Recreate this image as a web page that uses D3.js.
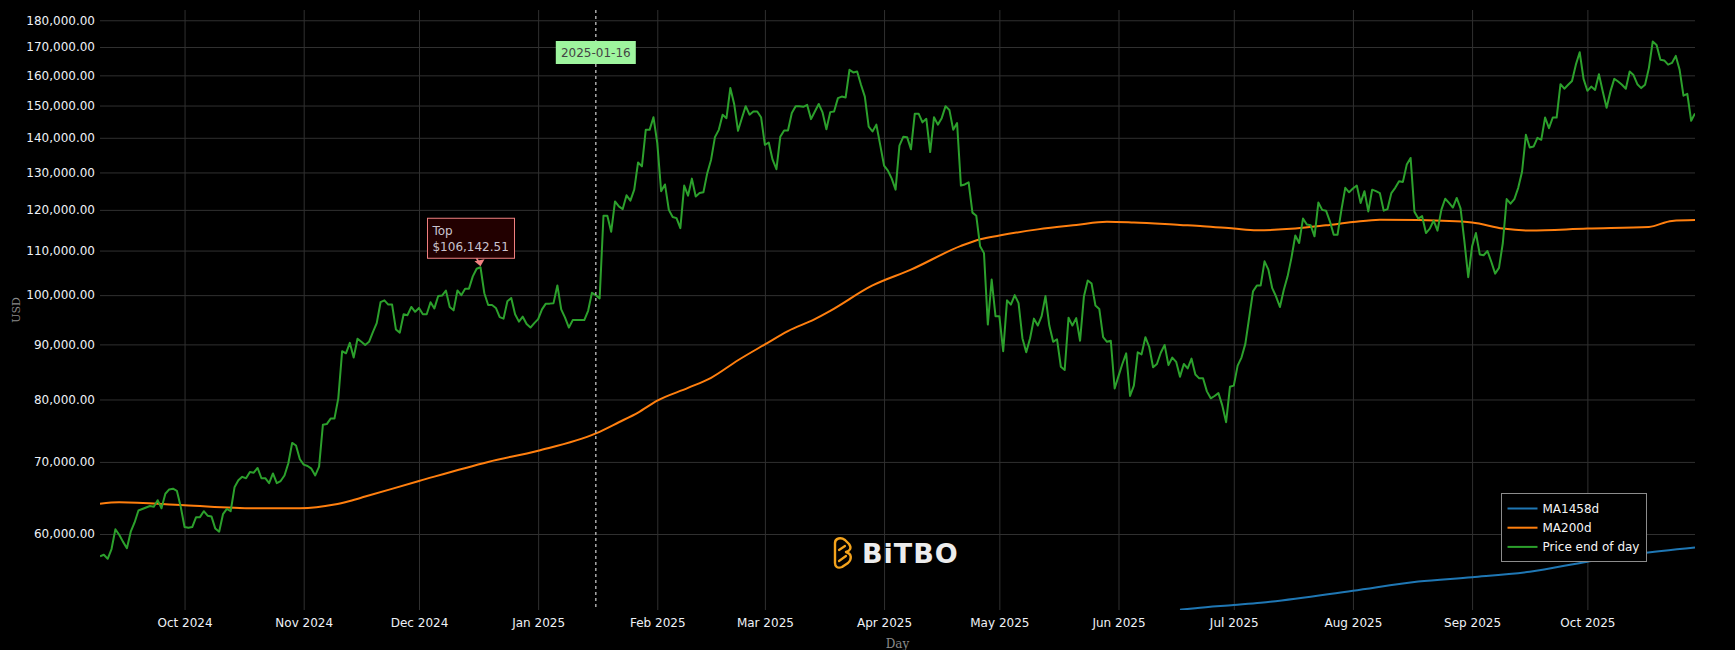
<!DOCTYPE html>
<html>
<head>
<meta charset="utf-8">
<script src="https://cdn.jsdelivr.net/npm/d3@7"></script>
<style>
    body { margin: 0; background: #000; }
    svg { display: block; }
</style>
</head>
<body>
<svg id="canvas"></svg>
<script>
// ----------------------------------- data -----------------------------------
// first day of the series, every price is one day later than the one before
let startDay = '2024-09-09'

// price end of day, USD thousands
let priceK = [
    57.2, 57.4, 56.9, 58.1, 60.6, 59.9, 59.0, 58.2, 60.3, 61.5,
    63.1, 63.3, 63.5, 63.7, 63.6, 64.5, 63.4, 65.4, 66.0, 66.1,
    65.8, 63.6, 60.9, 60.8, 60.9, 62.2, 62.2, 63.0, 62.4, 62.3,
    60.7, 60.3, 62.6, 63.3, 63.0, 66.3, 67.3, 67.8, 67.6, 68.5,
    68.4, 69.1, 67.6, 67.6, 66.9, 68.3, 66.9, 67.2, 68.0, 69.8,
    72.9, 72.5, 70.4, 69.6, 69.4, 69.0, 68.0, 69.3, 75.8, 75.9,
    76.8, 76.8, 80.2, 88.7, 88.3, 90.3, 87.5, 91.1, 90.5, 89.9,
    90.5, 92.4, 94.2, 98.5, 98.9, 98.0, 98.0, 92.9, 92.3, 96.0,
    95.8, 97.5, 96.5, 97.3, 96.0, 96.0, 98.5, 97.2, 99.8, 99.9,
    101.0, 97.5, 96.8, 101.0, 100.0, 101.4, 101.4, 104.1, 105.8, 106.14251,
    100.4, 97.9, 97.9, 97.3, 95.4, 95.1, 98.7, 99.4, 96.0, 94.5,
    95.5, 94.0, 93.3, 94.2, 95.0, 97.0, 98.2, 98.2, 98.3, 102.1,
    97.0, 95.3, 93.3, 94.8, 94.8, 94.8, 94.8, 96.7, 100.5, 100.0,
    99.3, 118.5, 118.5, 114.5, 122.2, 120.9, 120.2, 123.8, 122.4, 125.3,
    132.8, 131.7, 142.4, 142.4, 146.3, 138.4, 124.9, 126.7, 120.0, 118.2,
    117.9, 115.4, 126.4, 123.7, 128.3, 123.5, 124.4, 124.6, 129.8, 133.6,
    140.2, 142.4, 147.1, 146.0, 155.7, 150.5, 142.1, 146.0, 149.8, 147.1,
    148.1, 148.1, 146.3, 137.9, 138.6, 133.6, 130.9, 140.3, 142.2, 142.2,
    147.6, 149.8, 149.8, 149.6, 150.2, 145.7, 148.1, 150.5, 147.8, 142.6,
    147.9, 148.1, 152.4, 152.9, 152.6, 161.9, 161.0, 161.3, 156.8, 152.9,
    143.4, 141.9, 144.0, 137.9, 131.9, 130.5, 128.3, 125.3, 137.7, 140.3,
    140.2, 136.6, 147.4, 147.4, 144.7, 145.8, 135.8, 146.3, 144.0, 146.0,
    149.8, 148.6, 142.4, 144.5, 126.4, 126.7, 127.3, 119.3, 118.5, 111.0,
    109.4, 93.9, 103.4, 95.6, 95.6, 88.7, 98.9, 98.0, 100.0, 98.3,
    91.2, 88.5, 91.2, 95.1, 93.7, 95.6, 99.8, 93.7, 90.5, 91.0,
    85.8, 85.2, 95.3, 93.7, 95.2, 90.7, 99.7, 103.2, 102.5, 97.8,
    97.1, 91.4, 90.5, 90.7, 81.9, 84.1, 86.3, 88.3, 80.6, 82.4,
    88.5, 88.1, 91.4, 89.5, 85.7, 86.3, 88.4, 89.9, 86.1, 87.5,
    86.7, 84.0, 86.3, 85.5, 87.3, 84.4, 83.7, 83.7, 81.4, 80.2,
    80.6, 81.1, 79.0, 76.2, 82.2, 82.4, 86.0, 87.5, 90.1, 95.3,
    100.8, 102.1, 102.1, 107.5, 105.6, 101.5, 99.7, 97.5, 101.1, 104.1,
    108.3, 113.6, 111.8, 117.8, 116.3, 116.1, 113.4, 121.9, 120.0, 119.8,
    117.1, 113.8, 113.8, 120.0, 125.8, 124.6, 125.6, 126.4, 121.8, 124.9,
    119.6, 125.3, 124.9, 124.4, 119.8, 120.2, 124.4, 125.8, 127.6, 127.4,
    132.2, 134.1, 119.5, 117.8, 118.4, 114.2, 115.3, 117.3, 114.8, 120.0,
    122.9, 121.8, 120.6, 123.1, 120.4, 112.2, 103.9, 111.0, 114.2, 109.1,
    108.9, 109.9, 107.4, 104.7, 106.0, 111.8, 122.8, 121.6, 122.8, 125.8,
    130.2, 140.9, 137.1, 137.4, 140.0, 139.4, 146.2, 142.9, 146.2, 146.2,
    157.0, 155.5, 156.8, 158.1, 163.7, 168.1, 158.8, 154.8, 156.2, 155.1,
    160.4, 154.6, 149.3, 154.6, 158.8, 157.9, 156.8, 155.5, 161.3, 160.1,
    157.0, 155.7, 156.8, 162.5, 172.0, 170.7, 165.4, 165.2, 163.7, 164.3,
    166.8, 161.9, 153.2, 153.8, 145.2, 147.5
]

// 200 day moving average, day number from startDay and USD thousands
let ma200Day = [0, 5, 22, 40, 52, 61, 65, 69, 83, 101, 114, 129, 135, 140, 145, 153, 159, 166, 173, 179,
    186, 190, 201, 211, 224, 229, 234, 244, 254, 262, 269, 281, 287, 295, 301, 311, 319, 326, 333, 343,
    357, 365, 372, 387, 403, 409, 415]
let ma200K = [64.0, 64.2, 63.8, 63.4, 63.4, 63.9, 64.4, 65.0, 67.2, 70.0, 71.7, 74.4, 76.2, 77.8, 79.8, 82.0, 83.8, 87.0, 90.0, 92.6,
    95.0, 96.7, 102.1, 105.6, 111.1, 112.7, 113.6, 115.1, 116.2, 117.0, 116.8, 116.2, 115.9, 115.3, 114.9, 115.3, 116.1, 116.9, 117.5, 117.4,
    116.8, 115.3, 114.8, 115.3, 115.7, 117.2, 117.4]

// 1458 day moving average (only its top is inside the chart)
let ma1458Day = [281, 285, 295, 302, 326, 343, 357, 372, 387, 400, 415]
let ma1458K = [51.02, 51.2, 51.55, 51.8, 53.15, 54.2, 54.7, 55.35, 56.55, 57.5, 58.3]

let yTickValues = [60000, 70000, 80000, 90000, 100000, 110000, 120000, 130000, 140000, 150000, 160000, 170000, 180000]
let yDomain = [51000, 184000]

let seriesNames = ['MA1458d', 'MA200d', 'Price end of day']
let seriesColors = ['#1f77b4', '#ff7f0e', '#2ca02c']

let markerDate = '2025-01-16'
let topDay = 99
let topLines = ['Top', '$106,142.51']

// ----------------------------------- layout -----------------------------------
let width = 1735
let height = 650
let plotLeft = 100
let plotRight = 1695
let plotTop = 10
let plotBottom = 610

let fontSans = '"DejaVu Sans", Verdana, sans-serif'
let fontSerif = '"DejaVu Serif", "Liberation Serif", serif'

let canvas = d3.select('#canvas')
canvas.attr('width', width)
canvas.attr('height', height)
canvas.append('rect').attr('width', width).attr('height', height).attr('fill', '#000')

let parseDay = d3.timeParse('%Y-%m-%d')
let day0 = parseDay(startDay)
let toDate = (n) => d3.timeDay.offset(day0, n)

let priceData = priceK.map((v, i) => ({date: toDate(i), value: v * 1000}))
let ma200Data = ma200Day.map((d, i) => ({date: toDate(d), value: ma200K[i] * 1000}))
let ma1458Data = ma1458Day.map((d, i) => ({date: toDate(d), value: ma1458K[i] * 1000}))

let xScale
let yScale

let generateScales = () => {
    xScale = d3.scaleTime()
        .domain([priceData[0].date, priceData[priceData.length - 1].date])
        .range([plotLeft, plotRight])

    yScale = d3.scaleLog()
        .domain(yDomain)
        .range([plotBottom, plotTop])
}

let drawAxes = () => {
    let xAxis = d3.axisBottom(xScale)
        .ticks(d3.timeMonth.every(1))
        .tickFormat(d3.timeFormat('%b %Y'))
        .tickSize(-(plotBottom - plotTop))
        .tickPadding(8)

    let yAxis = d3.axisLeft(yScale)
        .tickValues(yTickValues)
        .tickFormat(d3.format(',.2f'))
        .tickSize(-(plotRight - plotLeft))
        .tickPadding(5)

    let gx = canvas.append('g')
        .attr('transform', 'translate(0, ' + plotBottom + ')')
        .call(xAxis)

    let gy = canvas.append('g')
        .attr('transform', 'translate(' + plotLeft + ', 0)')
        .call(yAxis)

    for (let g of [gx, gy]) {
        g.select('.domain').remove()
        g.selectAll('.tick line').attr('stroke', '#303030').attr('stroke-width', 1)
        g.selectAll('.tick text')
            .attr('fill', '#eef1f7')
            .style('font-family', fontSans)
            .style('font-size', '12px')
    }

    // axis titles
    canvas.append('text')
        .attr('transform', 'translate(20, ' + ((plotTop + plotBottom) / 2) + ') rotate(-90)')
        .attr('text-anchor', 'middle')
        .attr('fill', '#8a8a8a')
        .style('font-family', fontSerif)
        .style('font-size', '11px')
        .text('USD')

    canvas.append('text')
        .attr('x', (plotLeft + plotRight) / 2)
        .attr('y', 648)
        .attr('text-anchor', 'middle')
        .attr('fill', '#8a8a8a')
        .style('font-family', fontSerif)
        .style('font-size', '12px')
        .text('Day')
}

let drawLogo = () => {
    let logo = canvas.append('g').attr('transform', 'translate(832, 537)')
    logo.append('path')
        .attr('d', 'M3,6 C3,1 9,0 13,3 L17,7 C20,11 18,14 14,15 C20,17 20,22 16,26 L10,30 C5,32 3,29 3,26 Z')
        .attr('fill', 'none')
        .attr('stroke', '#f4a31c')
        .attr('stroke-width', 2.4)
        .attr('stroke-linejoin', 'round')
    logo.append('path')
        .attr('d', 'M7,13 L13,9 M7,24 L14,19')
        .attr('stroke', '#f4a31c')
        .attr('stroke-width', 2.2)
        .attr('stroke-linecap', 'round')
    canvas.append('text')
        .attr('x', 862)
        .attr('y', 563)
        .attr('fill', '#ececec')
        .style('font-family', fontSans)
        .style('font-weight', 'bold')
        .style('font-size', '27px')
        .style('letter-spacing', '1px')
        .text('BiTBO')
}

let drawLines = () => {
    canvas.append('clipPath').attr('id', 'plot-clip')
        .append('rect')
        .attr('x', plotLeft).attr('y', plotTop)
        .attr('width', plotRight - plotLeft).attr('height', plotBottom - plotTop)

    let lines = canvas.append('g').attr('clip-path', 'url(#plot-clip)')

    let straight = d3.line()
        .x((item) => xScale(item.date))
        .y((item) => yScale(item.value))

    let smooth = d3.line()
        .curve(d3.curveMonotoneX)
        .x((item) => xScale(item.date))
        .y((item) => yScale(item.value))

    let series = [
        {data: ma1458Data, line: smooth},
        {data: ma200Data, line: smooth},
        {data: priceData, line: straight}
    ]

    series.forEach((s, i) => {
        lines.append('path')
            .attr('d', s.line(s.data))
            .attr('fill', 'none')
            .attr('stroke', seriesColors[i])
            .attr('stroke-width', 2)
            .attr('stroke-linejoin', 'round')
    })
}

let drawMarker = () => {
    let mx = xScale(parseDay(markerDate))

    canvas.append('line')
        .attr('x1', mx).attr('x2', mx)
        .attr('y1', plotTop).attr('y2', plotBottom)
        .attr('stroke', '#a8a8a8')
        .attr('stroke-width', 1.5)
        .attr('stroke-dasharray', '3,3')

    canvas.append('rect')
        .attr('x', mx - 40).attr('y', 41)
        .attr('width', 80).attr('height', 23)
        .attr('fill', '#9ef59e')

    canvas.append('text')
        .attr('x', mx).attr('y', 52.5)
        .attr('dy', '0.35em')
        .attr('text-anchor', 'middle')
        .attr('fill', '#444')
        .style('font-family', fontSans)
        .style('font-size', '12px')
        .text(markerDate)
}

let drawTopNote = () => {
    let px = xScale(toDate(topDay))
    let py = yScale(priceK[topDay] * 1000)

    let boxW = 87
    let boxH = 40
    let bx = px - 53
    let by = py - 49

    canvas.append('rect')
        .attr('x', bx).attr('y', by)
        .attr('width', boxW).attr('height', boxH)
        .attr('fill', '#220000')
        .attr('stroke', '#f08080')
        .attr('stroke-width', 1)

    topLines.forEach((t, i) => {
        canvas.append('text')
            .attr('x', bx + 5)
            .attr('y', by + 12.5 + i * 16.5)
            .attr('dy', '0.35em')
            .attr('fill', '#c9c3cf')
            .style('font-family', fontSans)
            .style('font-size', '12px')
            .text(t)
    })

    // arrow from the box down to the peak
    canvas.append('line')
        .attr('x1', px - 4).attr('y1', by + boxH)
        .attr('x2', px - 1).attr('y2', py - 4)
        .attr('stroke', '#f08080')
        .attr('stroke-width', 1.5)
    canvas.append('path')
        .attr('d', 'M' + (px - 6) + ',' + (py - 6) + ' L' + (px + 4) + ',' + (py - 8) + ' L' + px + ',' + (py - 1) + ' Z')
        .attr('fill', '#f08080')
}

let drawLegend = () => {
    let lx = 1501.5
    let ly = 493.5
    let legend = canvas.append('g')

    legend.append('rect')
        .attr('x', lx).attr('y', ly)
        .attr('width', 145).attr('height', 68)
        .attr('fill', '#000')
        .attr('stroke', '#8c8c8c')
        .attr('stroke-width', 1)

    seriesNames.forEach((name, i) => {
        let rowY = ly + 15 + i * 19.2
        legend.append('line')
            .attr('x1', lx + 6).attr('x2', lx + 36)
            .attr('y1', rowY).attr('y2', rowY)
            .attr('stroke', seriesColors[i])
            .attr('stroke-width', 2)
        legend.append('text')
            .attr('x', lx + 41)
            .attr('y', rowY)
            .attr('dy', '0.35em')
            .attr('fill', '#f4f4f4')
            .style('font-family', fontSans)
            .style('font-size', '12px')
            .text(name)
    })
}

generateScales()
drawAxes()
drawLogo()
drawLines()
drawMarker()
drawTopNote()
drawLegend()
</script>
</body>
</html>
